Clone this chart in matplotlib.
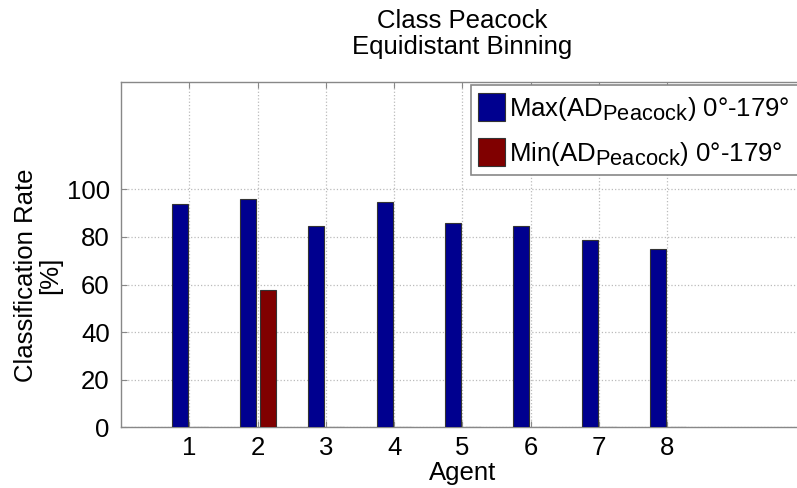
import numpy as np
import matplotlib
matplotlib.use("Agg")
import matplotlib.pyplot as plt
import matplotlib._mathtext as mathtext

# classification rates per agent, percent
agents = [1, 2, 3, 4, 5, 6, 7, 8]
max_rate = [93.8, 96.1, 84.5, 94.7, 85.7, 84.5, 78.6, 74.8]
min_rate = [0, 57.6, 0, 0, 0, 0, 0, 0]
labels = [r"Max(AD$_{\mathrm{Peacock}}$) 0°-179°",
          r"Min(AD$_{\mathrm{Peacock}}$) 0°-179°"]
y_ticks = [0, 20, 40, 60, 80, 100]

plt.rcParams["font.family"] = ["Liberation Sans", "DejaVu Sans"]
plt.rcParams["mathtext.fontset"] = "custom"
plt.rcParams["mathtext.rm"] = "Liberation Sans"
plt.rcParams["font.size"] = 18.5
# bigger subscripts in the legend labels
mathtext.SHRINK_FACTOR = 0.85


def main():
    fig = plt.figure(figsize=(7.97, 4.88), dpi=100)
    ax = fig.add_axes([0.1518, 0.124, 0.857, 0.708])

    x = np.array(agents, dtype=float)
    width = 0.235
    ax.bar(x - 0.14, max_rate, width, color="#00008F", edgecolor="#333333",
           linewidth=0.8, label=labels[0], zorder=3)
    ax.bar(x + 0.15, min_rate, width, color="#800000", edgecolor="#333333",
           linewidth=0.8, label=labels[1], zorder=3)

    ax.set_xlim(0, 10)
    ax.set_ylim(0, 145)
    ax.set_xticks(agents)
    ax.set_yticks(y_ticks)
    ax.tick_params(direction="in", length=4, top=True, right=True,
                   color="#888888", pad=8)
    ax.tick_params(axis="x", pad=6)
    for s in ax.spines.values():
        s.set_color("#888888")
        s.set_linewidth(1.0)
    ax.grid(True, linestyle=":", color="#BBBBBB", linewidth=0.9, zorder=0)

    ax.set_title("Class Peacock\nEquidistant Binning", fontsize=18.5,
                 pad=20, linespacing=1.1)
    ax.set_xlabel("Agent", labelpad=1)
    ax.set_ylabel("Classification Rate\n[%]", linespacing=1.0)
    ax.yaxis.set_label_coords(-0.086, 0.44)

    leg = ax.legend(loc="upper left", bbox_to_anchor=(0.512, 0.99),
                    borderaxespad=0, fancybox=False, framealpha=1,
                    handlelength=1.05, handleheight=1.3, handletextpad=0.15,
                    labelspacing=0.6, borderpad=0.3)
    leg.get_frame().set_edgecolor("#888888")
    leg.get_frame().set_linewidth(1.2)

    fig.savefig("out.png", dpi=100)


if __name__ == "__main__":
    main()
